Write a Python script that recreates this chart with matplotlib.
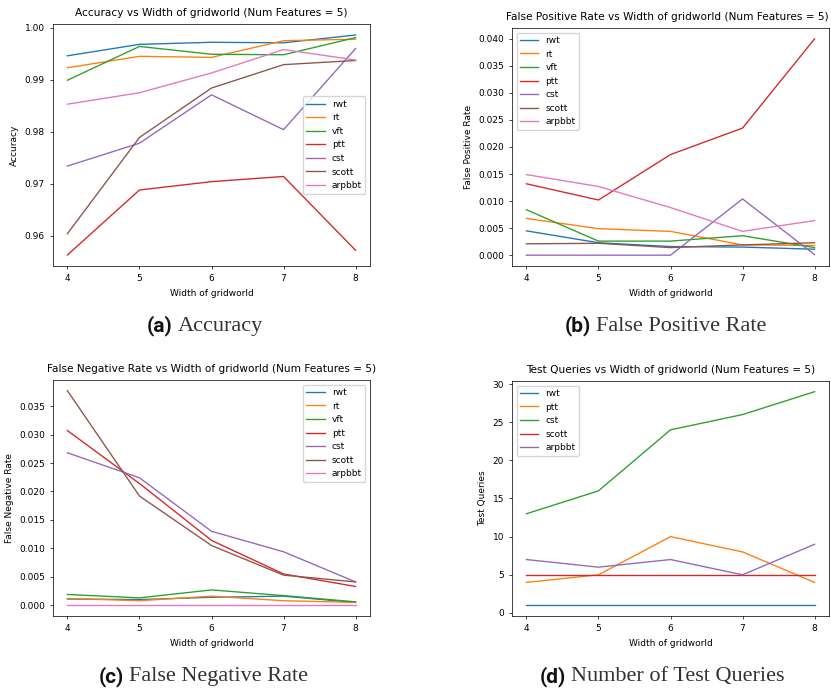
#Importing needed libraries
import matplotlib
matplotlib.use('Agg')
import matplotlib.pyplot as plt

#Grid widths on the x axis
widths = [4, 5, 6, 7, 8]

#Accuracy per method
acc_rwt = [0.9946, 0.9968, 0.9972, 0.9971, 0.9986]
acc_rt = [0.9923, 0.9945, 0.9943, 0.9975, 0.9978]
acc_vft = [0.9899, 0.9964, 0.9949, 0.9948, 0.9981]
acc_ptt = [0.9563, 0.9688, 0.9704, 0.9714, 0.9572]
acc_cst = [0.9734, 0.9778, 0.9871, 0.9804, 0.9960]
acc_scott = [0.9604, 0.9789, 0.9884, 0.9929, 0.9937]
acc_arpbbt = [0.9853, 0.9875, 0.9913, 0.9958, 0.9938]

#False positive rate per method
fpr_rwt = [0.0045, 0.0023, 0.0016, 0.0015, 0.0011]
fpr_rt = [0.0068, 0.0049, 0.0044, 0.0019, 0.0018]
fpr_vft = [0.0084, 0.0026, 0.0026, 0.0036, 0.0014]
fpr_ptt = [0.0132, 0.0102, 0.0186, 0.0235, 0.0400]
fpr_cst = [0.0, 0.0, 0.0, 0.0104, 0.0001]
fpr_scott = [0.0021, 0.0022, 0.0014, 0.0019, 0.0023]
fpr_arpbbt = [0.0149, 0.0127, 0.0088, 0.0044, 0.0064]

#False negative rate per method
fnr_rwt = [0.0011, 0.0010, 0.0014, 0.0016, 0.0005]
fnr_rt = [0.0012, 0.0008, 0.0016, 0.0008, 0.0005]
fnr_vft = [0.0019, 0.0013, 0.0027, 0.0017, 0.0006]
fnr_ptt = [0.0307, 0.0214, 0.0114, 0.0055, 0.0033]
fnr_cst = [0.0268, 0.0224, 0.0130, 0.0094, 0.0041]
fnr_scott = [0.0377, 0.0192, 0.0105, 0.0053, 0.0041]
fnr_arpbbt = [0.0, 0.0, 0.0, 0.0, 0.0]

#Number of test queries per method
tq_rwt = [1, 1, 1, 1, 1]
tq_ptt = [4, 5, 10, 8, 4]
tq_cst = [13, 16, 24, 26, 29]
tq_scott = [5, 5, 5, 5, 5]
tq_arpbbt = [7, 6, 7, 5, 9]

names7 = ['rwt', 'rt', 'vft', 'ptt', 'cst', 'scott', 'arpbbt']
names5 = ['rwt', 'ptt', 'cst', 'scott', 'arpbbt']

#Everything is a shrunk 640x480 figure, so scale sizes down
s = 0.65
plt.rcParams['font.size'] = 10 * s
plt.rcParams['axes.titlesize'] = 7.6
plt.rcParams['lines.linewidth'] = 1.5 * s
plt.rcParams['axes.linewidth'] = 0.8 * s
plt.rcParams['xtick.major.size'] = 3.5 * s
plt.rcParams['ytick.major.size'] = 3.5 * s
plt.rcParams['xtick.major.width'] = 0.8 * s
plt.rcParams['ytick.major.width'] = 0.8 * s
plt.rcParams['legend.fontsize'] = 10 * s

fig = plt.figure(figsize=(8.31, 6.89), dpi=100)
W, H = 831.0, 689.0


def make_ax(left, right, top, bottom):
    return fig.add_axes([left / W, 1 - bottom / H, (right - left) / W, (bottom - top) / H])


def panel(ax, series, names, title, ylabel, loc, tx=0.5):
    for vals, name in zip(series, names):
        ax.plot(widths, vals, label=name)
    ax.set_xticks(widths)
    ax.set_title(title, x=tx)
    ax.set_xlabel('Width of gridworld')
    ax.set_ylabel(ylabel)
    ax.legend(loc=loc)


ax1 = make_ax(53, 370, 24, 266)
panel(ax1, [acc_rwt, acc_rt, acc_vft, acc_ptt, acc_cst, acc_scott, acc_arpbbt], names7,
      'Accuracy vs Width of gridworld (Num Features = 5)', 'Accuracy', 'center right')

ax2 = make_ax(512, 829, 28, 266)
panel(ax2, [fpr_rwt, fpr_rt, fpr_vft, fpr_ptt, fpr_cst, fpr_scott, fpr_arpbbt], names7,
      'False Positive Rate vs Width of gridworld (Num Features = 5)', 'False Positive Rate',
      'upper left', tx=0.49)

ax3 = make_ax(53, 370, 380, 616)
panel(ax3, [fnr_rwt, fnr_rt, fnr_vft, fnr_ptt, fnr_cst, fnr_scott, fnr_arpbbt], names7,
      'False Negative Rate vs Width of gridworld (Num Features = 5)', 'False Negative Rate', 'upper right')

ax4 = make_ax(512, 829, 381, 616)
panel(ax4, [tq_rwt, tq_ptt, tq_cst, tq_scott, tq_arpbbt], names5,
      'Test Queries vs Width of gridworld (Num Features = 5)', 'Test Queries', 'upper left')

#Sub-captions under each panel
captions = [(175, 326, '(a)', 'Accuracy'),
            (593, 326, '(b)', 'False Positive Rate'),
            (126, 677, '(c)', 'False Negative Rate'),
            (568, 677, '(d)', 'Number of Test Queries')]
for x, y, tag, text in captions:
    fig.text((x - 2) / W, 1 - y / H, tag, ha='right', va='center', fontsize=15,
             fontweight='bold', family=['Roboto', 'DejaVu Sans'], color='#111111')
    fig.text((x + 3) / W, 1 - y / H, text, ha='left', va='center', fontsize=16,
             family=['Liberation Serif', 'DejaVu Serif'], color='#333333')

fig.savefig('out.png', dpi=100)
